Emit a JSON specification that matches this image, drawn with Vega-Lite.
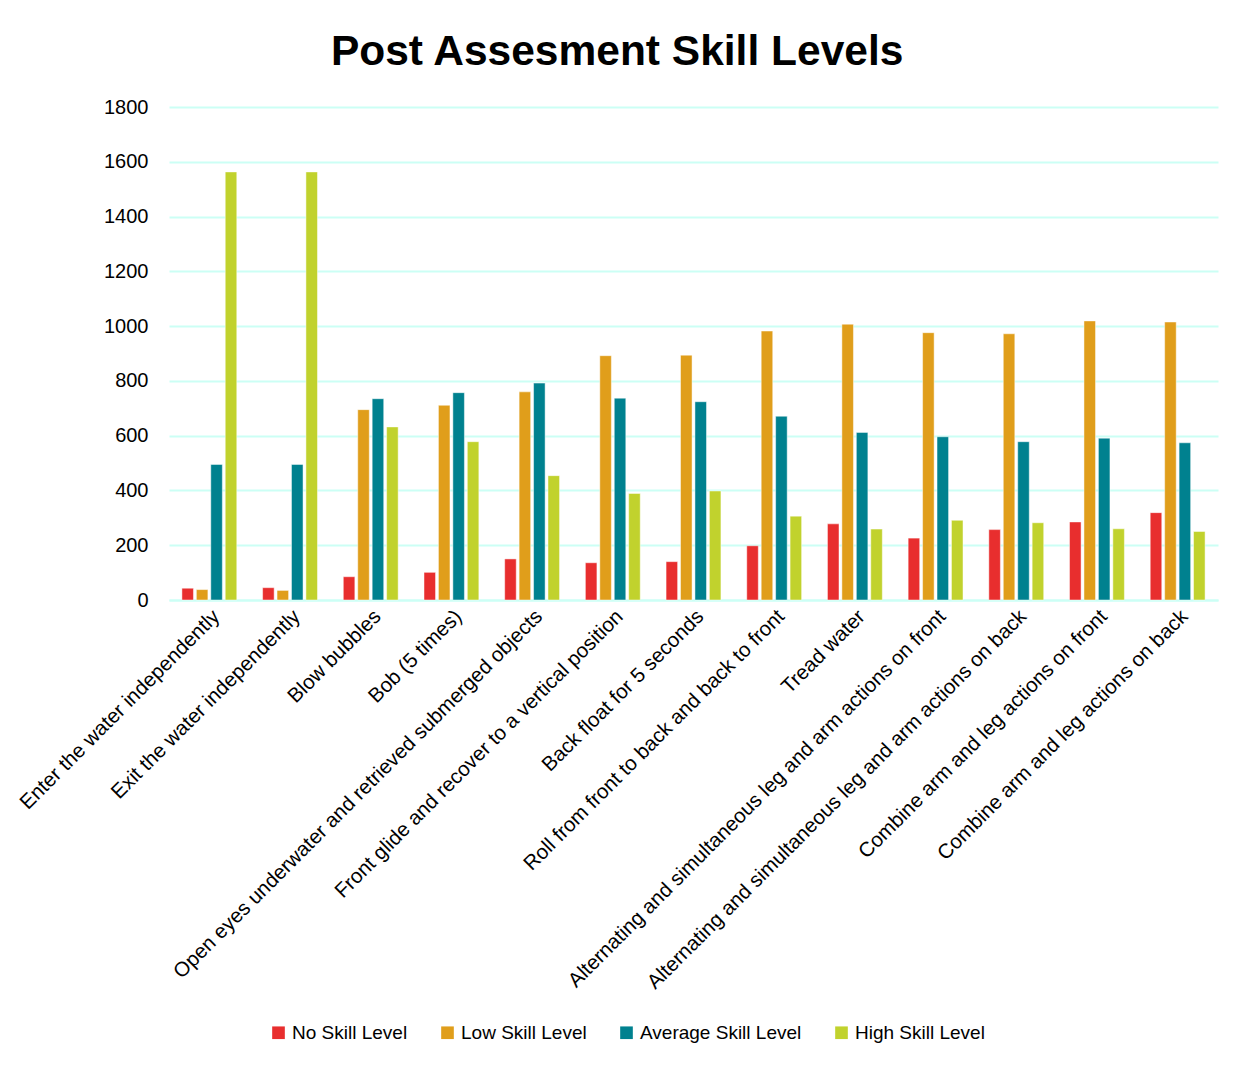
{
  "$schema": "https://vega.github.io/schema/vega-lite/v6.json",
  "width": 1049,
  "height": 493,
  "padding": {"left": 16, "top": 30, "right": 28, "bottom": 20},
  "background": "white",
  "title": {
    "text": "Post Assesment Skill Levels",
    "font": "Liberation Sans",
    "fontSize": 42.5,
    "fontWeight": "bold",
    "color": "#000000",
    "anchor": "middle",
    "frame": "bounds",
    "offset": 24
  },
  "data": {
    "values": [
      {"skill": "Enter the water independently", "level": "No Skill Level", "count": 43},
      {"skill": "Enter the water independently", "level": "Low Skill Level", "count": 38},
      {"skill": "Enter the water independently", "level": "Average Skill Level", "count": 495},
      {"skill": "Enter the water independently", "level": "High Skill Level", "count": 1563},
      {"skill": "Exit the water independently", "level": "No Skill Level", "count": 45},
      {"skill": "Exit the water independently", "level": "Low Skill Level", "count": 35},
      {"skill": "Exit the water independently", "level": "Average Skill Level", "count": 495},
      {"skill": "Exit the water independently", "level": "High Skill Level", "count": 1563},
      {"skill": "Blow bubbles", "level": "No Skill Level", "count": 85},
      {"skill": "Blow bubbles", "level": "Low Skill Level", "count": 695},
      {"skill": "Blow bubbles", "level": "Average Skill Level", "count": 735},
      {"skill": "Blow bubbles", "level": "High Skill Level", "count": 632},
      {"skill": "Bob (5 times)", "level": "No Skill Level", "count": 101},
      {"skill": "Bob (5 times)", "level": "Low Skill Level", "count": 711},
      {"skill": "Bob (5 times)", "level": "Average Skill Level", "count": 757},
      {"skill": "Bob (5 times)", "level": "High Skill Level", "count": 578},
      {"skill": "Open eyes underwater and retrieved submerged objects", "level": "No Skill Level", "count": 150},
      {"skill": "Open eyes underwater and retrieved submerged objects", "level": "Low Skill Level", "count": 760},
      {"skill": "Open eyes underwater and retrieved submerged objects", "level": "Average Skill Level", "count": 792},
      {"skill": "Open eyes underwater and retrieved submerged objects", "level": "High Skill Level", "count": 454},
      {"skill": "Front glide and recover to a vertical position", "level": "No Skill Level", "count": 136},
      {"skill": "Front glide and recover to a vertical position", "level": "Low Skill Level", "count": 892},
      {"skill": "Front glide and recover to a vertical position", "level": "Average Skill Level", "count": 737},
      {"skill": "Front glide and recover to a vertical position", "level": "High Skill Level", "count": 389},
      {"skill": "Back float for 5 seconds", "level": "No Skill Level", "count": 140},
      {"skill": "Back float for 5 seconds", "level": "Low Skill Level", "count": 894},
      {"skill": "Back float for 5 seconds", "level": "Average Skill Level", "count": 724},
      {"skill": "Back float for 5 seconds", "level": "High Skill Level", "count": 398},
      {"skill": "Roll from front to back and back to front", "level": "No Skill Level", "count": 198},
      {"skill": "Roll from front to back and back to front", "level": "Low Skill Level", "count": 982},
      {"skill": "Roll from front to back and back to front", "level": "Average Skill Level", "count": 671},
      {"skill": "Roll from front to back and back to front", "level": "High Skill Level", "count": 306},
      {"skill": "Tread water", "level": "No Skill Level", "count": 278},
      {"skill": "Tread water", "level": "Low Skill Level", "count": 1007},
      {"skill": "Tread water", "level": "Average Skill Level", "count": 612},
      {"skill": "Tread water", "level": "High Skill Level", "count": 259},
      {"skill": "Alternating and simultaneous leg and arm actions on front", "level": "No Skill Level", "count": 226},
      {"skill": "Alternating and simultaneous leg and arm actions on front", "level": "Low Skill Level", "count": 976},
      {"skill": "Alternating and simultaneous leg and arm actions on front", "level": "Average Skill Level", "count": 596},
      {"skill": "Alternating and simultaneous leg and arm actions on front", "level": "High Skill Level", "count": 291},
      {"skill": "Alternating and simultaneous leg and arm actions on back", "level": "No Skill Level", "count": 257},
      {"skill": "Alternating and simultaneous leg and arm actions on back", "level": "Low Skill Level", "count": 972},
      {"skill": "Alternating and simultaneous leg and arm actions on back", "level": "Average Skill Level", "count": 578},
      {"skill": "Alternating and simultaneous leg and arm actions on back", "level": "High Skill Level", "count": 282},
      {"skill": "Combine arm and leg actions on front", "level": "No Skill Level", "count": 285},
      {"skill": "Combine arm and leg actions on front", "level": "Low Skill Level", "count": 1019},
      {"skill": "Combine arm and leg actions on front", "level": "Average Skill Level", "count": 591},
      {"skill": "Combine arm and leg actions on front", "level": "High Skill Level", "count": 260},
      {"skill": "Combine arm and leg actions on back", "level": "No Skill Level", "count": 319},
      {"skill": "Combine arm and leg actions on back", "level": "Low Skill Level", "count": 1015},
      {"skill": "Combine arm and leg actions on back", "level": "Average Skill Level", "count": 574},
      {"skill": "Combine arm and leg actions on back", "level": "High Skill Level", "count": 250}
    ]
  },
  "mark": {"type": "bar", "stroke": "#ffffff", "strokeWidth": 0.8, "strokeOpacity": 0.6},
  "encoding": {
    "x": {
      "field": "skill",
      "type": "nominal",
      "sort": null,
      "scale": {"paddingInner": 0.32, "paddingOuter": 0.16},
      "axis": {
        "title": null,
        "labelAngle": -45,
        "labelFont": "Liberation Sans",
        "labelFontSize": 20.5,
        "labelColor": "#000000",
        "labelLimit": 700,
        "labelPadding": 6,
        "ticks": false,
        "domain": true,
        "domainColor": "#ccfff5",
        "domainWidth": 2,
        "grid": false
      }
    },
    "xOffset": {
      "field": "level",
      "type": "nominal",
      "sort": ["No Skill Level", "Low Skill Level", "Average Skill Level", "High Skill Level"],
      "scale": {"paddingInner": 0.2}
    },
    "y": {
      "field": "count",
      "type": "quantitative",
      "scale": {"domain": [0, 1800], "nice": false},
      "axis": {
        "title": null,
        "values": [0, 200, 400, 600, 800, 1000, 1200, 1400, 1600, 1800],
        "format": "d",
        "labelFont": "Liberation Sans",
        "labelFontSize": 20,
        "labelColor": "#000000",
        "labelPadding": 21,
        "ticks": false,
        "domain": false,
        "grid": true,
        "gridColor": "#ccfff5",
        "gridWidth": 2
      }
    },
    "color": {
      "field": "level",
      "type": "nominal",
      "sort": ["No Skill Level", "Low Skill Level", "Average Skill Level", "High Skill Level"],
      "scale": {
        "domain": ["No Skill Level", "Low Skill Level", "Average Skill Level", "High Skill Level"],
        "range": ["#e82e2e", "#e09e1b", "#00818f", "#c1d22d"]
      },
      "legend": {
        "title": null,
        "orient": "none",
        "legendX": 100,
        "legendY": 916,
        "direction": "horizontal",
        "symbolType": "square",
        "symbolSize": 160,
        "symbolStrokeWidth": 0,
        "labelFont": "Liberation Sans",
        "labelFontSize": 19,
        "labelColor": "#000000",
        "labelLimit": 400,
        "labelOffset": 4,
        "columnPadding": 30
      }
    }
  },
  "config": {
    "view": {"stroke": null}
  }
}
